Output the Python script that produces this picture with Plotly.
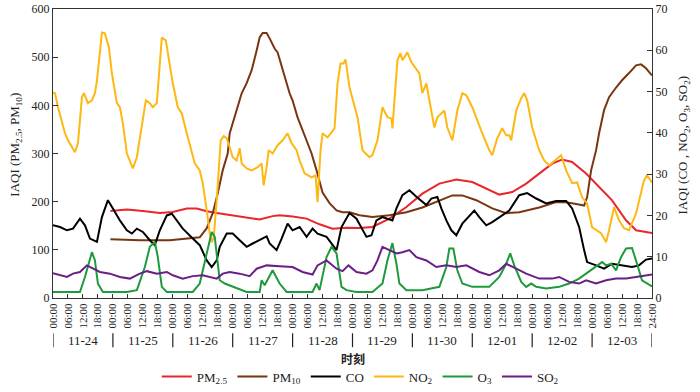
import plotly.graph_objects as go

# ---------------- data (hours since 11-24 00:00, IAQI) ----------------
no2_h = [0, 0.8, 2, 4.8, 6, 8, 8.8, 10, 11.6, 12.4, 14, 15.6, 16.8, 17.6, 19.6, 20.8, 22.4, 23.6,
         25.6, 26.8, 28, 29.6, 32, 33.6, 35.6, 37.2, 38.8, 40, 41.6, 43.6, 45.2, 46.8, 48, 50, 51.6,
         53.6, 55.6, 56.8, 58.8, 60, 61.6, 62.8, 63.6, 64.4, 65.6, 66.8, 67.2, 68.4, 69.6, 70.8, 72,
         73.6, 74.8, 75.6, 77.6, 79.6, 82, 83.6, 84.4, 85.6, 86.4, 88, 90, 92, 94, 95.6, 97.6, 98.8,
         100.8, 103.6, 105.2, 106, 107.2, 108, 110, 111.6, 112.8, 114, 115.2, 116.4, 117.2, 118.8,
         120.8, 122, 124, 126.8, 128, 130, 132, 134, 135.6, 136, 138, 139.2, 140, 142, 143.6, 146.8,
         148, 149.6, 150.8, 152.8, 154, 156.8, 158, 160, 162, 164, 165.6, 168, 172, 174.8, 176, 178,
         180, 181.6, 182.8, 183.6, 185.6, 187.6, 188.8, 190, 192, 194.8, 196.8, 198.8, 203.6, 205.6,
         208, 210, 212, 214, 216, 219.6, 221.6, 222.8, 224.8, 226.8, 228.8, 230.8, 233.6, 235.6,
         236.8, 238, 240]
no2_v = [49.8, 49.6, 46.2, 39.9, 38.2, 36.3, 35.3, 37.5, 48.6, 49.6, 47.2, 47.9, 49.6, 52.6, 64.3,
         64.1, 60.7, 54.4, 47.2, 46.2, 42.3, 35.0, 31.4, 34.1, 41.3, 47.9, 47.2, 46.2, 47.2, 63.1,
         62.4, 56.8, 52.0, 46.2, 44.7, 39.9, 35.0, 32.6, 30.9, 27.8, 21.2, 15.7, 13.5, 14.7, 23.7,
         35.8, 38.2, 39.2, 38.7, 36.5, 34.1, 33.3, 36.3, 32.6, 31.4, 30.9, 31.7, 32.6, 27.3, 31.7,
         35.8, 35.0, 37.0, 38.2, 39.9, 37.5, 35.8, 33.3, 30.2, 29.2, 29.7, 23.2, 35.8, 39.9, 38.9,
         40.1, 41.1, 52.0, 56.8, 56.8, 57.8, 51.0, 46.2, 43.8, 35.8, 34.1, 34.6, 38.2, 46.2, 43.8,
         43.5, 41.1, 57.6, 59.3, 57.6, 59.5, 57.1, 54.4, 49.6, 52.0, 47.9, 41.3, 43.8, 45.4, 41.3,
         38.2, 45.4, 49.6, 49.1, 46.2, 39.9, 35.8, 34.6, 38.7, 41.1, 39.4, 39.4, 38.2, 45.4, 48.4,
         49.6, 47.9, 41.3, 35.8, 33.3, 32.1, 34.6, 30.9, 27.8, 28.0, 24.4, 22.9, 17.1, 15.7, 13.5,
         16.4, 22.0, 18.8, 16.9, 16.4, 20.5, 25.4, 28.5, 29.7, 28.0]

pm10_h = [23, 34.8, 46.8, 56, 58.8, 61.6, 64, 66, 68, 70, 70.8, 72, 73.6, 75.6, 77.6, 79.6, 81.6,
          82.8, 84, 85.6, 86.8, 88.8, 90, 92, 94.8, 96, 98, 101.6, 103.6, 105.6, 108, 110.8, 113.6,
          116, 118.8, 122.8, 128, 134.8, 141.6, 148, 154.8, 160, 164, 169.6, 176, 181.6, 186.8,
          194.8, 201.6, 205.6, 209.6, 212.8, 214, 215.6, 217.6, 218.8, 220.8, 222.8, 225.6, 228,
          230.8, 233.6, 235.6, 237.6, 240]
pm10_v = [122, 120, 120, 124, 126, 145, 176, 217, 265, 300, 342, 363, 390, 425, 446, 473, 514,
          541, 550, 550, 539, 518, 510, 473, 425, 410, 375, 327, 300, 265, 219, 197, 182, 178, 178,
          172, 168, 172, 178, 188, 203, 213, 213, 203, 186, 176, 178, 188, 199, 199, 195, 192, 209,
          265, 307, 342, 390, 417, 437, 452, 467, 483, 485, 477, 462]

pm25_h = [23, 29.6, 36, 42.8, 48, 53.6, 57.6, 61.6, 65.6, 69.6, 76, 82.8, 88, 90.8, 96, 101.6,
          106.8, 112, 117.6, 122.8, 128, 134.8, 141.6, 148, 154.8, 161.6, 168, 174.8, 178.8, 184,
          189.6, 194.8, 200, 204, 208, 213.6, 218.8, 224, 229.6, 233.6, 240]
pm25_v = [180.6, 183.5, 180.6, 176.5, 178.5, 185.6, 185.6, 180, 176.5, 173.1, 168.2, 163, 170,
          172, 169, 164.8, 153, 144, 146, 145.3, 147.4, 164.8, 189, 216.7, 237.5, 245.8, 240.8,
          223.6, 214.7, 220, 237.5, 258.3, 279, 287.3, 282.3, 258.3, 230.4, 202.8, 161.3, 140.5,
          135]

co_h = [0, 2.8, 5.6, 8, 10.8, 12.8, 14.8, 17.6, 19.6, 22, 24, 26.8, 29.6, 31.6, 33.6, 36, 38.8,
        40.8, 42.8, 45.6, 47.6, 49.6, 52, 56, 58.8, 61.6, 63.6, 65.6, 66.8, 69.6, 72, 74.8, 77.6,
        80, 82.8, 85.6, 86.8, 89.6, 91.6, 94, 96, 98.8, 101.6, 104, 106, 109.6, 113.6, 115.6,
        118.8, 121.6, 125.6, 127.6, 129.6, 132, 136, 137.6, 140, 142.8, 145.6, 149.6, 151.6, 154,
        155.6, 157.6, 159.6, 161.6, 164, 167.6, 168.8, 170.8, 173.6, 176, 178.8, 182.8, 186.8,
        190, 193.6, 197.6, 201.6, 205.6, 208, 210.8, 212.8, 214, 217.6, 220.8, 224, 228, 232,
        234.8, 237.6, 240]
co_v = [17.6, 17.2, 16.4, 16.8, 19.2, 17.6, 14.4, 13.6, 19.6, 23.7, 21.7, 18.8, 16.4, 15.6, 16.8,
        16.0, 14.0, 12.8, 16.4, 20.0, 20.4, 18.8, 16.8, 14.4, 12.8, 9.1, 7.5, 9.1, 12.4, 15.6,
        15.6, 14.0, 12.4, 13.2, 14.1, 14.9, 13.2, 11.6, 14.4, 18.0, 16.4, 17.2, 14.8, 16.8, 15.6,
        14.8, 11.6, 17.2, 20.6, 19.2, 14.8, 15.2, 18.8, 19.6, 18.8, 21.7, 24.9, 26.1, 24.5, 22.5,
        24.1, 24.5, 21.7, 18.8, 16.4, 15.2, 18.0, 20.4, 21.2, 19.6, 17.6, 18.4, 19.6, 21.2, 24.9,
        25.4, 24.1, 22.9, 23.5, 23.5, 21.7, 17.2, 11.6, 8.7, 7.9, 7.1, 8.3, 7.9, 7.5, 7.9, 9.3,
        9.6]

o3_h = [0, 10.8, 12.8, 15.6, 16.8, 18, 20, 29.6, 33.6, 36.8, 38.8, 40.8, 42, 43.6, 45.6, 56,
        58.8, 61.6, 63.6, 64.8, 66.8, 68.8, 72, 77.6, 82.8, 83.6, 84.8, 88, 90.8, 93.6, 104,
        105.6, 106.8, 109.6, 111.6, 113.6, 115.6, 117.6, 121.6, 128, 132, 134, 136, 137.6, 138.8,
        141.6, 148, 154.8, 157.6, 158.8, 160.4, 162, 164, 168, 174.8, 178.8, 181.6, 183.2, 184.8,
        187.6, 189.6, 191.6, 193.6, 197.6, 202.8, 206.8, 210.8, 213.6, 216, 220, 221.6, 223.6,
        225.6, 227.6, 229.6, 232, 234, 236, 240]
o3_v = [1.45, 1.45, 5.1, 11.1, 9.1, 3.5, 1.45, 1.45, 1.9, 7.5, 12.4, 13.6, 9.9, 2.7, 1.45, 1.45,
        3.5, 10.8, 16.0, 14.8, 4.3, 3.5, 2.7, 1.45, 1.45, 4.3, 3.1, 6.7, 3.5, 1.45, 1.45, 3.5,
        1.9, 9.9, 12.4, 10.8, 2.7, 1.9, 1.45, 1.45, 3.5, 9.1, 13.3, 8.3, 3.5, 1.9, 1.9, 2.7, 7.5,
        12.0, 12.0, 6.7, 3.5, 2.7, 2.7, 5.1, 8.3, 10.8, 7.9, 3.9, 2.7, 3.5, 2.7, 2.3, 2.7, 3.5,
        4.7, 5.9, 7.1, 8.7, 7.9, 8.3, 6.7, 9.9, 12.0, 12.1, 8.3, 4.3, 2.8]

so2_h = [0, 2.8, 5.6, 8, 10.8, 13.6, 16, 18.8, 22.8, 26.8, 30.8, 34.8, 37.6, 41.6, 45.6, 48, 52,
         56, 60, 65.6, 68, 70.8, 74.8, 78.8, 81.6, 85.6, 90.8, 96, 100, 104, 106, 109.6, 113.6,
         116, 118.4, 121.6, 125.6, 128, 130, 132, 134.8, 137.6, 140, 142.8, 145.6, 149.6, 153.6,
         157.6, 161.6, 165.6, 170.8, 174.8, 178.8, 181.6, 185.6, 189.6, 194.8, 200, 202.8, 206.8,
         210.8, 213.6, 217.6, 221.6, 225.6, 229.6, 233.6, 240]
so2_v = [6.0, 5.5, 5.1, 5.9, 6.3, 7.9, 7.1, 6.3, 5.9, 5.1, 4.7, 5.9, 6.5, 5.9, 6.3, 5.5, 4.7, 5.3,
         5.5, 4.7, 5.9, 6.3, 5.9, 5.3, 7.1, 7.9, 7.7, 7.5, 6.3, 5.7, 7.9, 9.1, 7.1, 6.5, 7.9, 6.3,
         5.9, 6.7, 9.1, 12.4, 11.6, 10.8, 11.1, 11.6, 9.9, 9.1, 7.5, 7.9, 7.5, 7.9, 6.3, 5.5, 6.7,
         8.3, 7.1, 5.9, 4.7, 4.7, 5.1, 3.9, 3.5, 4.3, 3.5, 4.3, 4.7, 4.7, 5.1, 5.7]

days = ["11-24", "11-25", "11-26", "11-27", "11-28", "11-29", "11-30", "12-01", "12-02", "12-03"]
hour_labels = ["00:00", "06:00", "12:00", "18:00"]

# ---------------- figure ----------------
SERIF = "Liberation Serif"
fig = go.Figure()

def add(name, xs, ys, color, axis):
    fig.add_trace(go.Scatter(x=xs, y=ys, name=name, mode="lines", yaxis=axis,
                             line=dict(color=color, width=2)))

add("PM<sub>2.5</sub>", pm25_h, pm25_v, "#e8262b", "y")
add("PM<sub>10</sub>", pm10_h, pm10_v, "#7a3510", "y")
add("CO", co_h, co_v, "#000000", "y2")
add("NO<sub>2</sub>", no2_h, no2_v, "#fdb813", "y2")
add("O<sub>3</sub>", o3_h, o3_v, "#1e9a3c", "y2")
add("SO<sub>2</sub>", so2_h, so2_v, "#6a1f86", "y2")

tickvals = list(range(0, 241, 6))
ticktext = [hour_labels[(t // 6) % 4] for t in tickvals]
ticktext[-1] = "24:00"

fig.update_layout(
    width=700, height=392,
    margin=dict(l=53, r=48, t=9, b=94, autoexpand=False),
    paper_bgcolor="white", plot_bgcolor="white",
    font=dict(family=SERIF, size=12, color="#222"),
    showlegend=True,
    legend=dict(orientation="h", x=0.513, xanchor="center", y=-0.272, yanchor="middle",
                font=dict(family=SERIF, size=13, color="#222"), itemwidth=30,
                bgcolor="rgba(0,0,0,0)"),
    xaxis=dict(range=[0, 240], tickvals=tickvals, ticktext=ticktext, tickangle=-90,
               ticks="inside", ticklen=4, tickcolor="#333", showgrid=False, zeroline=False,
               showline=True, linecolor="#333", linewidth=1, mirror=True, automargin=False,
               tickfont=dict(family=SERIF, size=11)),
    yaxis=dict(range=[0, 600], tickvals=list(range(0, 601, 100)), ticks="inside", ticklen=5,
               tickcolor="#333", showgrid=False, zeroline=False, showline=True, automargin=False,
               linecolor="#333", linewidth=1, tickfont=dict(family=SERIF, size=12)),
    yaxis2=dict(range=[0, 70], tickvals=list(range(0, 71, 10)), overlaying="y", side="right",
                ticks="inside", ticklen=5, tickcolor="#333", showgrid=False, zeroline=False,
                showline=True, linecolor="#333", linewidth=1, automargin=False,
                tickfont=dict(family=SERIF, size=12)),
)

# day labels and separators
for i, d in enumerate(days):
    fig.add_annotation(x=12 + 24 * i, y=-0.147, xref="x", yref="paper", text=d,
                       showarrow=False, font=dict(family=SERIF, size=13, color="#222"),
                       xanchor="center", yanchor="middle")
for i in range(len(days) + 1):
    fig.add_shape(type="line", x0=24 * i, x1=24 * i, y0=-0.122, y1=-0.170, xref="x",
                  yref="paper", line=dict(color="#222", width=1.2))

fig.add_annotation(x=120, y=-0.209, xref="x", yref="paper", text="<b>时刻</b>",
                   showarrow=False, font=dict(family="Noto Sans CJK SC", size=12, color="#222"),
                   xanchor="center", yanchor="middle")

fig.add_annotation(x=-0.062, y=0.53, xref="paper", yref="paper",
                   text="IAQI (PM<sub>2.5</sub>, PM<sub>10</sub>)", textangle=-90,
                   showarrow=False, font=dict(family=SERIF, size=13, color="#222"),
                   xanchor="center", yanchor="middle")
fig.add_annotation(x=1.053, y=0.53, xref="paper", yref="paper",
                   text="IAQI (CO , NO<sub>2</sub>, O<sub>3</sub>, SO<sub>2</sub>)", textangle=-90,
                   showarrow=False, font=dict(family=SERIF, size=13, color="#222"),
                   xanchor="center", yanchor="middle")

fig.write_html("out.html", config={"displayModeBar": False},
               post_script="document.body.style.margin='0';document.body.style.overflow='hidden';")
